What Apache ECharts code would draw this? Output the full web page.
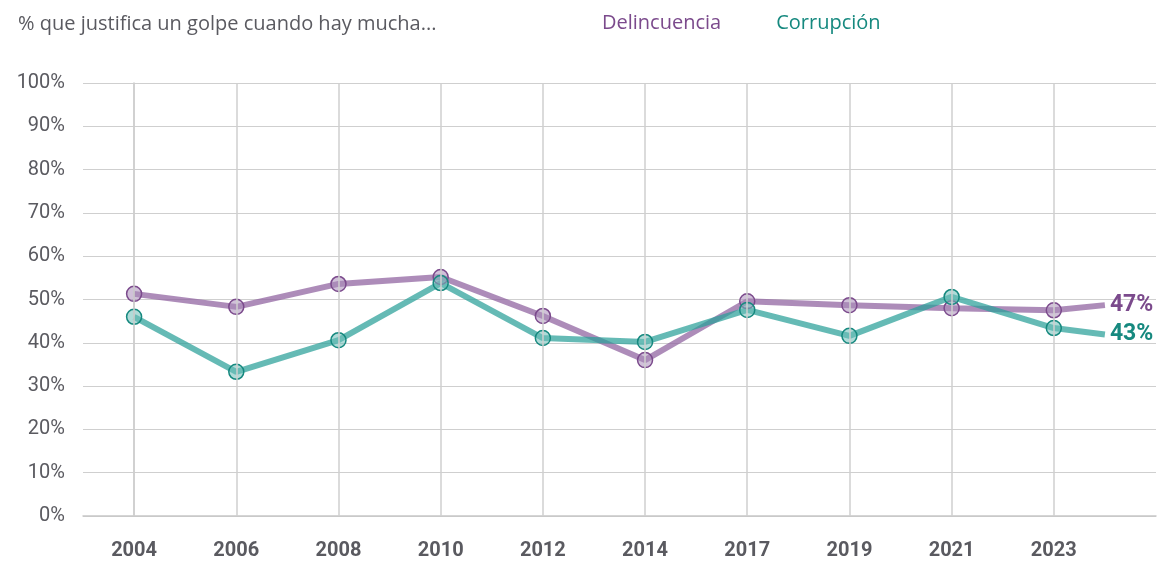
<!DOCTYPE html>
<html>
<head>
<meta charset="utf-8">
<script src="https://cdn.jsdelivr.net/npm/echarts@6/dist/echarts.min.js"></script>
<style>
  html, body { margin: 0; padding: 0; background: #fff; }
  #chart { width: 1159px; height: 562px; }
</style>
</head>
<body>
<div id="chart"></div>
<script>
// datos
const years = ['2004', '2006', '2008', '2010', '2012', '2014', '2017', '2019', '2021', '2023']
// posición en el eje x (el último punto queda entre 2023 y el borde)
const xPos = [0, 1, 2, 3, 4, 5, 6, 7, 8, 9, 9.5]
const delincuencia = [51.3, 48.3, 53.6, 55.2, 46.2, 36.0, 49.6, 48.7, 48.0, 47.5, 48.7]
const corrupcion = [46.0, 33.3, 40.6, 53.8, 41.1, 40.2, 47.6, 41.6, 50.6, 43.4, 41.9]
const endLabels = ['47%', '43%']
const yTicks = [0, 10, 20, 30, 40, 50, 60, 70, 80, 90, 100]

const purple = '#7b4a8c'
const teal = '#16897f'

const toPoints = (vals) => vals.map((v, i) => {
  const p = { value: [xPos[i], v] }
  if (i === vals.length - 1) p.symbol = 'none'
  return p
})

const chart = echarts.init(document.getElementById('chart'))

const lineSeries = (name, vals, color, lineColor, fill, label) => ({
  name: name,
  type: 'line',
  z: 3,
  data: toPoints(vals),
  symbol: 'circle',
  symbolSize: 15,
  lineStyle: { width: 6, color: lineColor },
  itemStyle: { color: fill, borderColor: color, borderWidth: 1.5 },
  emphasis: { disabled: true },
  endLabel: {
    show: true,
    formatter: label,
    color: color,
    fontFamily: 'Roboto',
    fontWeight: 'bold',
    fontSize: 23,
    distance: 5
  },
  animation: false
})

chart.setOption({
  title: {
    text: '% que justifica un golpe cuando hay mucha...',
    left: 13,
    top: 9,
    textStyle: { fontFamily: 'Open Sans', fontSize: 20, fontWeight: 'normal', color: '#5a5a60' }
  },
  legend: {
    left: 592,
    top: 8,
    icon: 'none',
    itemWidth: 0,
    itemGap: 50,
    data: [
      { name: 'Delincuencia', textStyle: { color: purple } },
      { name: 'Corrupción', textStyle: { color: teal } }
    ],
    textStyle: { fontFamily: 'Open Sans', fontSize: 20 },
    selectedMode: false
  },
  grid: { left: 83, right: -2, top: 83, bottom: 46 },
  xAxis: {
    type: 'value',
    min: -0.5,
    max: 10,
    interval: 0.5,
    axisLine: { show: true, lineStyle: { color: '#c8c8c8', width: 1.5 } },
    axisTick: { show: false },
    splitLine: { show: false },
    axisLabel: {
      margin: 25,
      fontFamily: 'Roboto',
      fontWeight: 'bold',
      fontSize: 20,
      color: '#5a5a60',
      formatter: (v) => (Number.isInteger(v) && years[v]) ? years[v] : ''
    }
  },
  yAxis: {
    type: 'value',
    min: yTicks[0],
    max: yTicks[yTicks.length - 1],
    interval: 10,
    axisLine: { show: true, lineStyle: { color: '#c8c8c8', width: 1.5 } },
    axisTick: { show: false },
    splitLine: { lineStyle: { color: '#cfcfcf', width: 1.2 } },
    axisLabel: {
      margin: 18,
      fontFamily: 'Roboto',
      fontSize: 20,
      color: '#5a5a60',
      formatter: '{value}%'
    }
  },
  series: [
    {
      // solo para las líneas verticales de la rejilla
      type: 'line',
      z: 1,
      data: [],
      silent: true,
      markLine: {
        silent: true,
        symbol: ['none', 'none'],
        label: { show: false },
        lineStyle: { color: '#cfcfcf', width: 1.5, type: 'solid' },
        data: years.map((y, i) => ({ xAxis: i }))
      },
      animation: false
    },
    lineSeries('Delincuencia', delincuencia, purple, 'rgba(142,96,158,0.72)', 'rgba(170,140,185,0.55)', endLabels[0]),
    lineSeries('Corrupción', corrupcion, teal, 'rgba(42,160,152,0.72)', 'rgba(110,190,184,0.55)', endLabels[1])
  ]
})
</script>
</body>
</html>
